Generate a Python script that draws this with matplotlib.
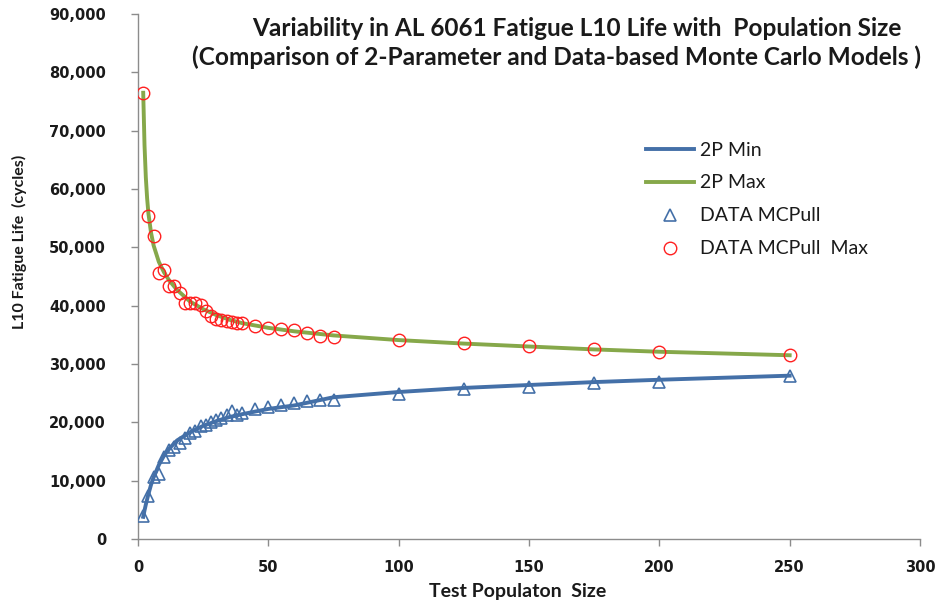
import matplotlib
matplotlib.use("Agg")
import matplotlib.pyplot as plt
from matplotlib.lines import Line2D

# ---- data ----
line_x = [2, 2.5, 3, 3.5, 4, 5, 6, 8, 10, 12, 15, 20, 25, 30, 35, 40, 50, 60, 75,
          100, 125, 150, 175, 200, 250]
min_2p = [3800, 4900, 5900, 6800, 7700, 9300, 10600, 12700, 14300, 15500, 16900, 18300,
          19400, 20200, 20900, 21400, 22300, 22900, 24300,
          25200, 25900, 26400, 26900, 27300, 28000]
max_2p = [76500, 67500, 62000, 58400, 55800, 52500, 50300, 47500, 45700, 44300, 42700, 40700,
          39400, 38400, 37600, 37000, 36200, 35600, 34900,
          34100, 33500, 33000, 32500, 32100, 31500]

data_x = [2, 4, 6, 8, 10, 12, 14, 16, 18, 20, 22, 24, 26, 28, 30, 32, 34, 36, 38, 40,
          45, 50, 55, 60, 65, 70, 75, 100, 125, 150, 175, 200, 250]
data_min = [4000, 7300, 10600, 11200, 14000, 15300, 15800, 16500, 17300, 18200,
            18600, 19300, 19500, 20100, 20400, 20800, 21200, 21900, 21300, 21600,
            22300, 22600, 22900, 23400, 23600, 23800, 23900,
            24900, 25800, 26100, 26800, 27000, 27900]
data_max = [76500, 55400, 52000, 45600, 46200, 43400, 43300, 42200, 40500, 40500,
            40400, 40100, 39100, 38200, 37700, 37500, 37400, 37200, 37100, 37000,
            36500, 36100, 35950, 35800, 35250, 34800, 34700,
            34200, 33550, 33100, 32570, 32060, 31540]

x_ticks = [0, 50, 100, 150, 200, 250, 300]
y_ticks = [0, 10000, 20000, 30000, 40000, 50000, 60000, 70000, 80000, 90000]

title1 = "Variability in AL 6061 Fatigue L10 Life with  Population Size"
title2 = "(Comparison of 2-Parameter and Data-based Monte Carlo Models )"

BLUE = "#4470A8"
GREEN = "#86A84A"
RED = "#FF2020"
GRAY = "#8C8C8C"
TXT = "#1A1A1A"

fig = plt.figure(figsize=(9.43, 6.05), dpi=100)
ax = fig.add_axes([138 / 943, 1 - 539 / 605, (920 - 138) / 943, (539 - 14) / 605])

ax.plot(line_x, min_2p, color=BLUE, lw=2.8, zorder=3)
ax.plot(line_x, max_2p, color=GREEN, lw=2.8, zorder=3)
ax.plot(data_x, data_min, ls="none", marker="^", ms=8, mfc="none", mec=BLUE, mew=1.2, zorder=4)
ax.plot(data_x, data_max, ls="none", marker="o", ms=9, mfc="none", mec=RED, mew=1.0, zorder=4)

ax.set_xlim(0, 300)
ax.set_ylim(0, 90000)
ax.set_xticks(x_ticks)
ax.set_yticks(y_ticks)
ax.set_xticklabels([str(v) for v in x_ticks])
ax.set_yticklabels([f"{v:,}" for v in y_ticks])
for s in ["top", "right"]:
    ax.spines[s].set_visible(False)
for s in ["left", "bottom"]:
    ax.spines[s].set_color(GRAY)
    ax.spines[s].set_linewidth(1.0)
ax.tick_params(direction="out", length=5, color=GRAY, width=1.0,
               labelsize=10.5, labelcolor=TXT)
ax.tick_params(axis="y", pad=18)
ax.tick_params(axis="x", pad=10)
for lab in ax.get_xticklabels() + ax.get_yticklabels():
    lab.set_fontweight("bold")
    lab.set_family("DejaVu Sans")

fig.text(577 / 943, 1 - 29 / 605, title1, ha="center", va="center",
         fontsize=17.6, fontweight="bold", family="Lato", color=TXT)
fig.text(557 / 943, 1 - 57 / 605, title2, ha="center", va="center",
         fontsize=17.6, fontweight="bold", family="Lato", color=TXT)
fig.text(518 / 943, 1 - 592 / 605, "Test Populaton  Size", ha="center", va="center",
         fontsize=14, fontweight="bold", family="Lato", color=TXT)
fig.text(19 / 943, 1 - 242 / 605, "L10 Fatigue Life  (cycles)", ha="center", va="center",
         rotation=90, fontsize=11.5, fontweight="bold", family="Lato", color=TXT)

handles = [
    Line2D([], [], color=BLUE, lw=2.8),
    Line2D([], [], color=GREEN, lw=2.8),
    Line2D([], [], ls="none", marker="^", ms=8, mfc="none", mec=BLUE, mew=1.2),
    Line2D([], [], ls="none", marker="o", ms=9, mfc="none", mec=RED, mew=1.0),
]
labels = ["2P Min", "2P Max", "DATA MCPull", "DATA MCPull  Max"]
leg = fig.legend(handles, labels, loc="upper left", bbox_to_anchor=(628 / 943, 1 - 124 / 605),
                 frameon=False, prop={"family": "Lato", "size": 14},
                 handlelength=2.5, handletextpad=0.3, labelspacing=0.82)
for t in leg.get_texts():
    t.set_color(TXT)

fig.savefig("out.png", dpi=100)
